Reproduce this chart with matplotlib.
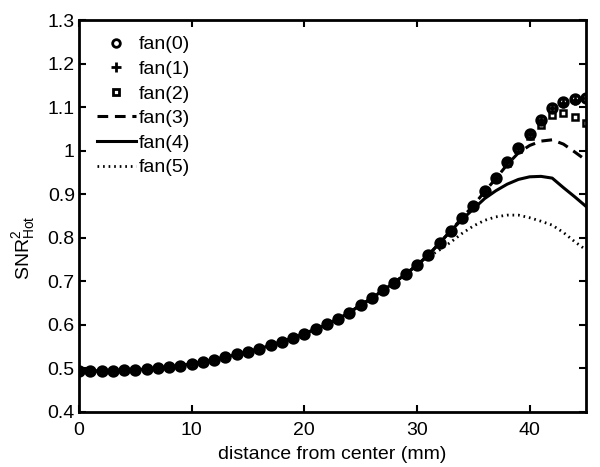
"""SNR^2_Hot versus distance from center for six fan settings."""

import matplotlib
matplotlib.use("Agg")
import matplotlib.pyplot as plt
import numpy as np

plt.rcParams["font.family"] = ["Liberation Sans", "DejaVu Sans"]
plt.rcParams["mathtext.fontset"] = "custom"
plt.rcParams["mathtext.rm"] = "Liberation Sans"
plt.rcParams["mathtext.it"] = "Liberation Sans"

distance_mm = np.arange(0, 46)

# common part, 0..30 mm
base = [0.495, 0.495, 0.493, 0.494, 0.496, 0.497, 0.498, 0.500, 0.503, 0.506,
        0.511, 0.515, 0.520, 0.526, 0.532, 0.538, 0.545, 0.553, 0.561, 0.570,
        0.580, 0.590, 0.601, 0.614, 0.628, 0.646, 0.661, 0.680, 0.697, 0.717,
        0.737]

fan0 = base + [0.760, 0.788, 0.816, 0.846, 0.874, 0.908, 0.938, 0.974, 1.007,
               1.039, 1.071, 1.099, 1.112, 1.118, 1.122]
fan1 = base + [0.760, 0.788, 0.816, 0.846, 0.874, 0.908, 0.938, 0.974, 1.007,
               1.039, 1.070, 1.097, 1.110, 1.116, 1.120]
fan2 = base + [0.760, 0.788, 0.816, 0.846, 0.874, 0.908, 0.938, 0.972, 1.003,
               1.033, 1.060, 1.081, 1.087, 1.077, 1.063]
fan3 = base + [0.760, 0.788, 0.816, 0.846, 0.874, 0.906, 0.936, 0.968, 0.995,
               1.012, 1.022, 1.025, 1.015, 0.997, 0.978]
fan4 = base + [0.760, 0.788, 0.816, 0.842, 0.866, 0.890, 0.908, 0.923, 0.934,
               0.940, 0.941, 0.937, 0.915, 0.894, 0.872]
fan5 = base + [0.756, 0.772, 0.790, 0.810, 0.827, 0.840, 0.848, 0.852, 0.852,
               0.846, 0.838, 0.829, 0.812, 0.791, 0.772]

y_ticks = [0.4, 0.5, 0.6, 0.7, 0.8, 0.9, 1.0, 1.1, 1.2, 1.3]
y_tick_labels = ["0.4", "0.5", "0.6", "0.7", "0.8", "0.9", "1", "1.1", "1.2", "1.3"]

fig = plt.figure(figsize=(6.0, 4.67), dpi=100)
ax = fig.add_axes([0.1317, 0.118, 0.845, 0.839])

ax.plot(distance_mm, fan0, "o", color="black", mfc="none", mew=2.6, ms=6.3, label="fan(0)")
ax.plot(distance_mm, fan1, "+", color="black", mew=2.0, ms=6.5, label="fan(1)")
ax.plot(distance_mm, fan2, "s", color="black", mfc="none", mew=1.8, ms=4.3, label="fan(2)")
ax.plot(distance_mm, fan3, color="black", lw=2.2, dashes=(3.5, 2.2), label="fan(3)")
ax.plot(distance_mm, fan4, "-", color="black", lw=2.2, label="fan(4)")
ax.plot(distance_mm, fan5, color="black", lw=2.0, dashes=(0.6, 1.4), label="fan(5)")

ax.set_xlim(0, 45)
ax.set_ylim(0.4, 1.3)
ax.set_xticks([0, 10, 20, 30, 40])
ax.set_yticks(y_ticks)
ax.set_yticklabels(y_tick_labels)
ax.tick_params(direction="in", top=True, right=True, length=5, width=1.5,
               labelsize=14)
ax.tick_params(axis="x", pad=7)
ax.tick_params(axis="y", pad=3)
for spine in ax.spines.values():
    spine.set_linewidth(2.0)

ax.set_xlabel("distance from center (mm)", fontsize=14, labelpad=5)
ax.set_ylabel(r"SNR$^2_{\mathrm{Hot}}$", fontsize=14)
ax.yaxis.set_label_coords(-0.083, 0.42)

leg = ax.legend(loc="upper left", frameon=False, fontsize=14, handlelength=2.0,
                handletextpad=0.15, labelspacing=0.36, borderaxespad=0,
                borderpad=0, bbox_to_anchor=(0.0355, 0.96))
for handle, size in zip(leg.legend_handles[:3], [5.5, 6.5, 5.0]):
    handle.set_markersize(size)
    handle.set_markeredgewidth(2.0)

fig.savefig("out.png", dpi=100)
